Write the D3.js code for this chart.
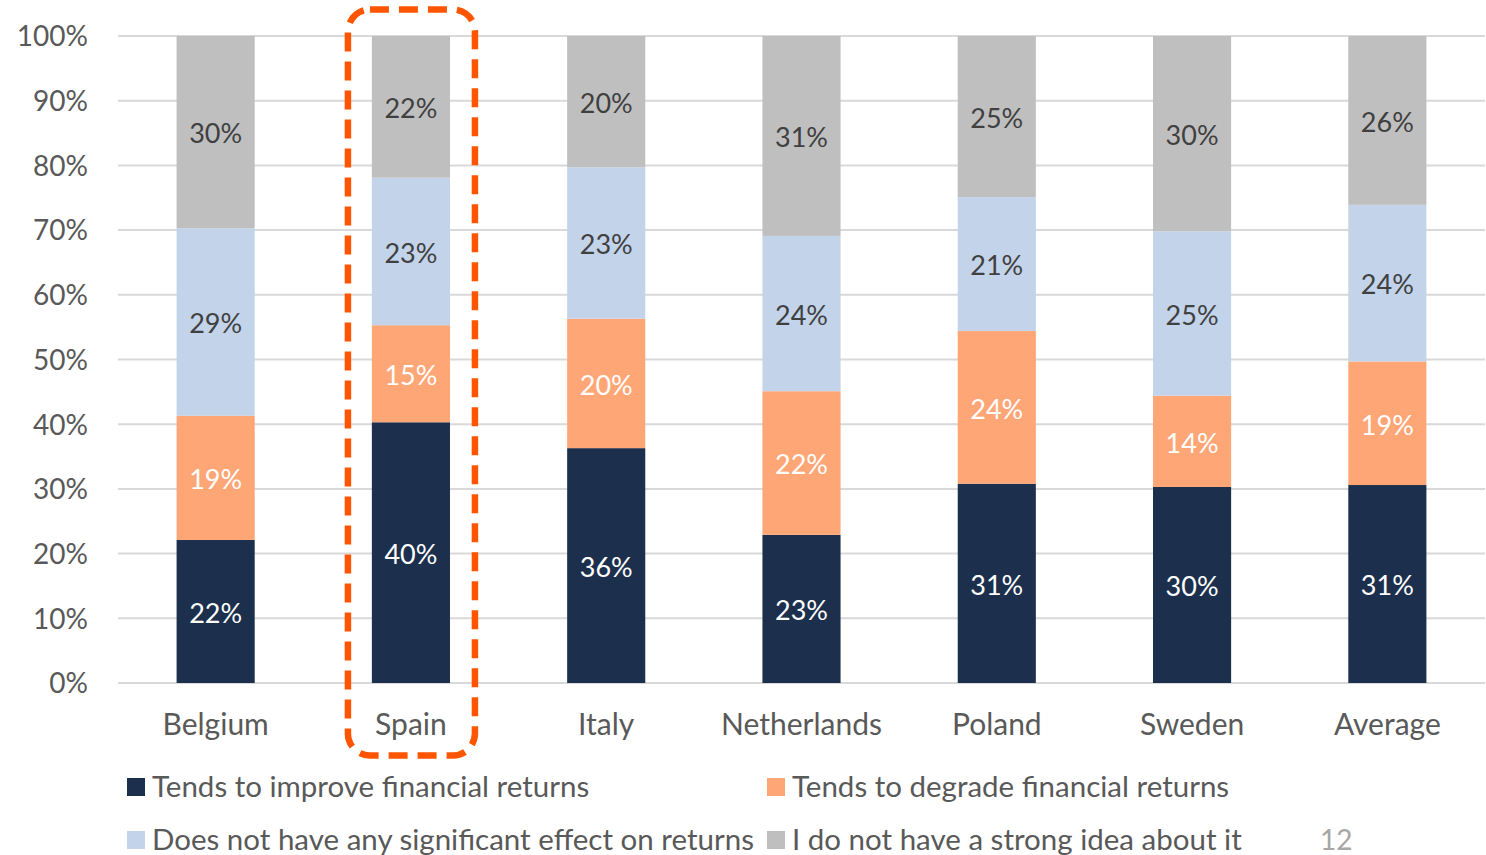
<!DOCTYPE html>
<html>
<head>
<meta charset="utf-8">
<script src="https://cdn.jsdelivr.net/npm/d3@7"></script>
<style>
  html, body { margin: 0; padding: 0; background: #fff; }
  svg { display: block; font-family: Lato, "Open Sans", sans-serif; }
</style>
</head>
<body>
<svg id="chart" width="1486" height="855"></svg>
<script>
const categories = ["Belgium", "Spain", "Italy", "Netherlands", "Poland", "Sweden", "Average"];
const seriesNames = [
  "Tends to improve financial returns",
  "Tends to degrade financial returns",
  "Does not have any significant effect on returns",
  "I do not have a strong idea about it"
];
const improve    = [0.221, 0.403, 0.363, 0.229, 0.308, 0.303, 0.306];
const degrade    = [0.192, 0.150, 0.200, 0.222, 0.236, 0.141, 0.191];
const noEffect   = [0.290, 0.228, 0.234, 0.240, 0.207, 0.254, 0.242];
const noIdea     = [0.297, 0.219, 0.203, 0.309, 0.249, 0.302, 0.261];
const yTicks = [0, 0.1, 0.2, 0.3, 0.4, 0.5, 0.6, 0.7, 0.8, 0.9, 1.0];
const highlighted = "Spain";
const pageNumber = "12";

const colors = ["#1c304d", "#ffa677", "#c2d3ea", "#bfbfbf"];
const labelColors = ["#ffffff", "#ffffff", "#404040", "#404040"];

const svg = d3.select("#chart");
const margin = { left: 118, right: 1485, top: 36, bottom: 683 };

const x = d3.scaleBand().domain(categories).range([margin.left, margin.right]).paddingInner(0.6).paddingOuter(0.3);
const y = d3.scaleLinear().domain([0, 1]).range([margin.bottom, margin.top]);

const rows = categories.map((c, i) => ({ cat: c, s0: improve[i], s1: degrade[i], s2: noEffect[i], s3: noIdea[i] }));
const stack = d3.stack().keys(["s0", "s1", "s2", "s3"]);
const stacked = stack(rows);

// gridlines
svg.append("g").selectAll("line").data(yTicks).join("line")
  .attr("x1", margin.left).attr("x2", margin.right)
  .attr("y1", d => y(d)).attr("y2", d => y(d))
  .attr("stroke", "#d9d9d9").attr("stroke-width", 2);

// y axis labels
const yAxis = d3.axisLeft(y).tickValues(yTicks).tickFormat(d3.format(".0%")).tickSize(0).tickPadding(0);
const yg = svg.append("g").attr("transform", `translate(88,0)`).call(yAxis);
yg.select(".domain").remove();
yg.selectAll("text").attr("font-size", 28).attr("fill", "#595959").attr("font-family", "Lato, sans-serif").attr("dy", "0.35em");

// bars
const layers = svg.append("g").selectAll("g").data(stacked).join("g")
  .attr("fill", (d, i) => colors[i]);
layers.selectAll("rect").data(d => d).join("rect")
  .attr("x", d => x(d.data.cat))
  .attr("width", x.bandwidth())
  .attr("y", d => y(d[1]))
  .attr("height", d => y(d[0]) - y(d[1]));

// labels
const fmt = d3.format(".0%");
svg.append("g").selectAll("g").data(stacked).join("g")
  .attr("fill", (d, i) => labelColors[i])
  .selectAll("text").data(d => d).join("text")
  .attr("x", d => x(d.data.cat) + x.bandwidth() / 2)
  .attr("y", d => (y(d[0]) + y(d[1])) / 2)
  .attr("dy", "0.42em")
  .attr("text-anchor", "middle")
  .attr("font-size", 27)
  .text(d => fmt(d[1] - d[0]));

// category labels
const xAxis = d3.axisBottom(x).tickSize(0).tickPadding(0);
const xg = svg.append("g").attr("transform", `translate(0,${margin.bottom + 41})`).call(xAxis);
xg.select(".domain").remove();
xg.selectAll("text").attr("font-size", 30).attr("fill", "#595959").attr("font-family", "Lato, sans-serif").attr("dy", "0.35em");

// highlight box around Spain
const hx = x(highlighted) + x.bandwidth() / 2;
svg.append("rect")
  .attr("x", hx - 63).attr("y", 9.5)
  .attr("width", 127).attr("height", 746)
  .attr("rx", 22).attr("ry", 22)
  .attr("fill", "none")
  .attr("stroke", "#ff5500")
  .attr("stroke-width", 6.5)
  .attr("stroke-dasharray", "19 10");

// legend
const legendPos = [[127, 787], [767, 787], [127, 840], [767, 840]];
const lg = svg.append("g").selectAll("g").data(seriesNames).join("g")
  .attr("transform", (d, i) => `translate(${legendPos[i][0]},${legendPos[i][1]})`);
lg.append("rect").attr("x", 0).attr("y", -9).attr("width", 18).attr("height", 18)
  .attr("fill", (d, i) => colors[i]);
lg.append("text").attr("x", 25).attr("y", 0).attr("dy", "0.35em")
  .attr("font-size", 29.5).attr("fill", "#595959").text(d => d);

// page number
svg.append("text").attr("x", 1320).attr("y", 840).attr("dy", "0.35em")
  .attr("font-size", 28).attr("fill", "#a6a6a6").text(pageNumber);
</script>
</body>
</html>
